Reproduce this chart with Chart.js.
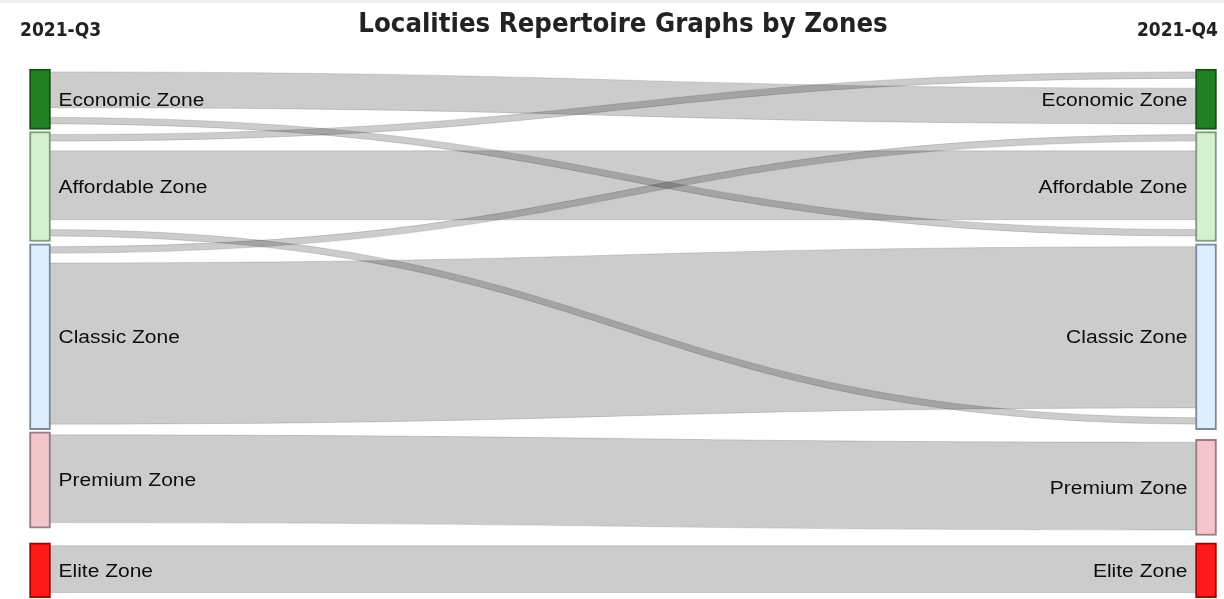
<!DOCTYPE html>
<html>
<head>
<meta charset="utf-8">
<script src="https://cdn.jsdelivr.net/npm/chart.js@4.4.1/dist/chart.umd.min.js"></script>
<style>
  html, body { margin: 0; padding: 0; background: #fff; }
  #wrap {
    width: 1224px; height: 599px; position: relative;
    background: linear-gradient(#f1f0ec 0, #f1f0ec 3px, #fff 3px);
  }
</style>
</head>
<body>
<div id="wrap"><canvas id="myChart"></canvas></div>
<script>
// zones (nodes) and the two quarters (columns)
var zones = ['Economic Zone', 'Affordable Zone', 'Classic Zone', 'Premium Zone', 'Elite Zone'];
var quarters = ['2021-Q3', '2021-Q4'];

// flows from a Q3 zone to a Q4 zone
var flowFrom   = [0,   0, 1, 1,    1, 2, 2,    3,    4];
var flowTo     = [0,   1, 0, 1,    2, 1, 2,    3,    4];
var flowValues = [5.5, 1, 1, 10.6, 1, 1, 24.8, 13.5, 7.2];

var nodeFill   = ['#218021', '#d5f2d0', '#ddeeff', '#f2c6cb', '#ff1a1a'];
var nodeBorder = ['#145214', '#7f9a7f', '#7d8b99', '#9a7a7e', '#a00000'];

// layout settings (in value units)
var yMax = 81.4;
var flowPad = 1.5;
var bandInset = 0.45;
var nodeTrim = 0.2;
var nodeGap = 0.35;
var slackSplit = [0, 0.6];
var nodeWidth = 21;

// work out node extents and band positions on each side
function computeLayout() {
    var n = zones.length;
    var heights = [[], []], tops = [[], []], order = [[], []];
    var bands = flowValues.map(function () { return [null, null]; });

    for (var c = 0; c < 2; c++) {
        for (var i = 0; i < n; i++) {
            var idx = [];
            for (var k = 0; k < flowValues.length; k++) {
                if ((c === 0 ? flowFrom[k] : flowTo[k]) === i) idx.push(k);
            }
            idx.sort(function (a, b) {
                return c === 0 ? flowTo[a] - flowTo[b] : flowFrom[b] - flowFrom[a];
            });
            order[c][i] = idx;
            heights[c][i] = idx.reduce(function (s, k) { return s + flowValues[k] + flowPad; }, 0) - nodeTrim;
        }
        // stack the first ones, pin the last one to the bottom
        var t = 0;
        for (var j = 0; j < n - 2; j++) {
            tops[c][j] = t;
            t += heights[c][j] + nodeGap;
        }
        tops[c][n - 1] = yMax - heights[c][n - 1];
        var space = tops[c][n - 1] - nodeGap - t - heights[c][n - 2];
        tops[c][n - 2] = t + space * slackSplit[c];

        for (var m = 0; m < n; m++) {
            var s = tops[c][m] + bandInset;
            order[c][m].forEach(function (k) {
                bands[k][c] = [s, s + flowValues[k]];
                s += flowValues[k] + flowPad;
            });
        }
    }
    return { heights: heights, tops: tops, bands: bands };
}

var layout = computeLayout();

var nodeData = [], nodeBg = [], nodeBd = [];
for (var c = 0; c < 2; c++) {
    for (var i = 0; i < zones.length; i++) {
        nodeData.push({ x: c, y: [layout.tops[c][i], layout.tops[c][i] + layout.heights[c][i]] });
        nodeBg.push(nodeFill[i]);
        nodeBd.push(nodeBorder[i]);
    }
}

var sankeyPlugin = {
    id: 'sankeyFlows',
    beforeDatasetsDraw: function (chart) {
        var ctx = chart.ctx, x = chart.scales.x, y = chart.scales.y;
        var x0 = x.getPixelForValue(0);
        var x1 = x.getPixelForValue(1);
        var xm = (x0 + x1) / 2;
        ctx.save();
        layout.bands.forEach(function (b) {
            var a0 = y.getPixelForValue(b[0][0]), a1 = y.getPixelForValue(b[0][1]);
            var c0 = y.getPixelForValue(b[1][0]), c1 = y.getPixelForValue(b[1][1]);
            ctx.beginPath();
            ctx.moveTo(x0, a0);
            ctx.bezierCurveTo(xm, a0, xm, c0, x1, c0);
            ctx.lineTo(x1, c1);
            ctx.bezierCurveTo(xm, c1, xm, a1, x0, a1);
            ctx.closePath();
            ctx.fillStyle = 'rgba(0,0,0,0.2)';
            ctx.fill();

            ctx.beginPath();
            ctx.moveTo(x0, a0);
            ctx.bezierCurveTo(xm, a0, xm, c0, x1, c0);
            ctx.moveTo(x1, c1);
            ctx.bezierCurveTo(xm, c1, xm, a1, x0, a1);
            ctx.strokeStyle = 'rgba(0,0,0,0.14)';
            ctx.lineWidth = 1;
            ctx.stroke();
        });
        ctx.restore();
    },
    afterDatasetsDraw: function (chart) {
        var ctx = chart.ctx, x = chart.scales.x, y = chart.scales.y;
        ctx.save();
        // zone labels (source text looks slightly stretched)
        ctx.fillStyle = '#0d0d0d';
        ctx.font = '17.5px "Liberation Sans", Arial, sans-serif';
        ctx.textBaseline = 'middle';
        for (var c = 0; c < 2; c++) {
            for (var i = 0; i < zones.length; i++) {
                var cy = y.getPixelForValue(layout.tops[c][i] + layout.heights[c][i] / 2) + 1.5;
                var px = c === 0 ? x.getPixelForValue(0) + nodeWidth / 2 + 8
                                 : x.getPixelForValue(1) - nodeWidth / 2 - 8;
                ctx.save();
                ctx.translate(px, cy);
                ctx.scale(1.2, 1);
                ctx.textAlign = c === 0 ? 'left' : 'right';
                ctx.fillText(zones[i], 0, 0);
                ctx.restore();
            }
        }
        // quarter headers
        ctx.font = 'bold 19px "DejaVu Sans Condensed", "DejaVu Sans", sans-serif';
        ctx.fillStyle = '#222';
        ctx.textAlign = 'left';
        ctx.fillText(quarters[0], 20, 31);
        ctx.textAlign = 'right';
        ctx.fillText(quarters[1], chart.width - 6, 31);
        ctx.restore();
    }
};

var ctx = document.getElementById('myChart').getContext('2d');

var myChart = new Chart(ctx, {
    type: 'bar',
    data: {
        datasets: [{
            label: 'Zones',
            data: nodeData,
            backgroundColor: nodeBg,
            borderColor: nodeBd,
            borderWidth: 2,
            borderSkipped: false,
            barThickness: nodeWidth,
            clip: false
        }]
    },
    options: {
        responsive: true,
        maintainAspectRatio: false,
        animation: false,
        layout: { padding: { left: 40, right: 18, top: 0, bottom: 1 } },
        scales: {
            x: { type: 'linear', min: 0, max: 1, offset: false, display: false },
            y: { type: 'linear', min: 0, max: yMax, reverse: true, display: false }
        },
        plugins: {
            legend: { display: false },
            tooltip: { enabled: false },
            title: {
                display: true,
                text: 'Localities Repertoire Graphs by Zones',
                color: '#222',
                font: { family: '"DejaVu Sans Condensed", "DejaVu Sans", sans-serif', size: 27.3, weight: 'bold', lineHeight: 1.2 },
                padding: { top: 9, bottom: 27.2 }
            }
        }
    },
    plugins: [sankeyPlugin]
});
</script>
</body>
</html>
